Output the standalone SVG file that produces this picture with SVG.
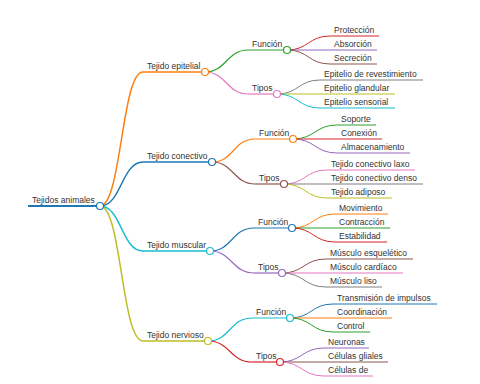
<svg xmlns="http://www.w3.org/2000/svg" width="480" height="384" viewBox="0 0 480 384">
<style>
text{font-family:"Liberation Sans",Arial,sans-serif;font-size:8.5px;fill:#333}
path,line{fill:none}
circle{fill:#fff}
.w0{stroke-width:2}.w1{stroke-width:1.5}.w2{stroke-width:1.2}.w3{stroke-width:1}
.c0{stroke:#1f77b4}.c1{stroke:#ff7f0e}.c2{stroke:#2ca02c}.c3{stroke:#d62728}.c4{stroke:#9467bd}
.c5{stroke:#8c564b}.c6{stroke:#e377c2}.c7{stroke:#7f7f7f}.c8{stroke:#bcbd22}.c9{stroke:#17becf}
</style>
<rect width="480" height="384" fill="#fff"/>
<g id="connectors">
<path class="w1 c1" d="M100,206 C121.5,206 121.5,72 143,72"/>
<path class="w1 c0" d="M100,206 C121.5,206 121.5,162 143,162"/>
<path class="w1 c9" d="M100,206 C121.5,206 121.5,251 143,251"/>
<path class="w1 c8" d="M100,206 C121.5,206 121.5,341 143,341"/>
<path class="w2 c2" d="M205,72 C226.5,72 226.5,50 248,50"/>
<path class="w2 c6" d="M205,72 C226.5,72 226.5,94 248,94"/>
<path class="w2 c1" d="M212,162 C233.5,162 233.5,139 255,139"/>
<path class="w2 c5" d="M212,162 C233.5,162 233.5,184 255,184"/>
<path class="w2 c0" d="M210,251 C232,251 232,228 254,228"/>
<path class="w2 c4" d="M210,251 C232,251 232,273 254,273"/>
<path class="w2 c9" d="M208,341 C230,341 230,318 252,318"/>
<path class="w2 c3" d="M208,341 C230,341 230,362 252,362"/>
<path class="w3 c3" d="M287,50 C308.5,50 308.5,36 330,36"/>
<path class="w3 c4" d="M287,50 L330,50"/>
<path class="w3 c5" d="M287,50 C308.5,50 308.5,64 330,64"/>
<path class="w3 c7" d="M277,94 C298.5,94 298.5,80 320,80"/>
<path class="w3 c8" d="M277,94 L320,94"/>
<path class="w3 c9" d="M277,94 C298.5,94 298.5,108 320,108"/>
<path class="w3 c2" d="M293,139 C315,139 315,125 337,125"/>
<path class="w3 c3" d="M293,139 L337,139"/>
<path class="w3 c4" d="M293,139 C315,139 315,153 337,153"/>
<path class="w3 c6" d="M284,184 C305.5,184 305.5,170 327,170"/>
<path class="w3 c7" d="M284,184 L327,184"/>
<path class="w3 c8" d="M284,184 C305.5,184 305.5,198 327,198"/>
<path class="w3 c1" d="M292,228 C313.5,228 313.5,214 335,214"/>
<path class="w3 c2" d="M292,228 L335,228"/>
<path class="w3 c3" d="M292,228 C313.5,228 313.5,242 335,242"/>
<path class="w3 c5" d="M282,273 C304,273 304,259 326,259"/>
<path class="w3 c6" d="M282,273 L326,273"/>
<path class="w3 c7" d="M282,273 C304,273 304,287 326,287"/>
<path class="w3 c0" d="M290,318 C311.5,318 311.5,304 333,304"/>
<path class="w3 c1" d="M290,318 L333,318"/>
<path class="w3 c2" d="M290,318 C311.5,318 311.5,332 333,332"/>
<path class="w3 c4" d="M280,362 C302,362 302,348 324,348"/>
<path class="w3 c5" d="M280,362 L324,362"/>
<path class="w3 c6" d="M280,362 C302,362 302,376 324,376"/>
</g>
<g id="root"><line class="w0 c0" x1="28" y1="206" x2="100" y2="206"/><circle class="w2 c0" cx="100" cy="206" r="3.5"/><text x="32" y="203">Tejidos animales</text></g>

<g id="epitelial"><line class="w1 c1" x1="143" y1="72" x2="205" y2="72"/><circle class="w2 c1" cx="205" cy="72" r="3.5"/><text x="147" y="69">Tejido epitelial</text></g>
<g id="epitelial-funcion"><line class="w2 c2" x1="248" y1="50" x2="287" y2="50"/><circle class="w2 c2" cx="287" cy="50" r="3.5"/><text x="252" y="47">Función</text></g>
<g id="proteccion"><line class="w3 c3" x1="330" y1="36" x2="379" y2="36"/><text x="334" y="33">Protección</text></g>
<g id="absorcion"><line class="w3 c4" x1="330" y1="50" x2="377" y2="50"/><text x="334" y="47">Absorción</text></g>
<g id="secrecion"><line class="w3 c5" x1="330" y1="64" x2="377" y2="64"/><text x="334" y="61">Secreción</text></g>
<g id="epitelial-tipos"><line class="w2 c6" x1="248" y1="94" x2="277" y2="94"/><circle class="w2 c6" cx="277" cy="94" r="3.5"/><text x="252" y="91">Tipos</text></g>
<g id="revestimiento"><line class="w3 c7" x1="320" y1="80" x2="423" y2="80"/><text x="324" y="77">Epitelio de revestimiento</text></g>
<g id="glandular"><line class="w3 c8" x1="320" y1="94" x2="395" y2="94"/><text x="324" y="91">Epitelio glandular</text></g>
<g id="sensorial"><line class="w3 c9" x1="320" y1="108" x2="395" y2="108"/><text x="324" y="105">Epitelio sensorial</text></g>

<g id="conectivo"><line class="w1 c0" x1="143" y1="162" x2="212" y2="162"/><circle class="w2 c0" cx="212" cy="162" r="3.5"/><text x="147" y="159">Tejido conectivo</text></g>
<g id="conectivo-funcion"><line class="w2 c1" x1="255" y1="139" x2="293" y2="139"/><circle class="w2 c1" cx="293" cy="139" r="3.5"/><text x="259" y="136">Función</text></g>
<g id="soporte"><line class="w3 c2" x1="337" y1="125" x2="376" y2="125"/><text x="341" y="122">Soporte</text></g>
<g id="conexion"><line class="w3 c3" x1="337" y1="139" x2="382" y2="139"/><text x="341" y="136">Conexión</text></g>
<g id="almacenamiento"><line class="w3 c4" x1="337" y1="153" x2="410" y2="153"/><text x="341" y="150">Almacenamiento</text></g>
<g id="conectivo-tipos"><line class="w2 c5" x1="255" y1="184" x2="284" y2="184"/><circle class="w2 c5" cx="284" cy="184" r="3.5"/><text x="259" y="181">Tipos</text></g>
<g id="laxo"><line class="w3 c6" x1="327" y1="170" x2="415" y2="170"/><text x="331" y="167">Tejido conectivo laxo</text></g>
<g id="denso"><line class="w3 c7" x1="327" y1="184" x2="423" y2="184"/><text x="331" y="181">Tejido conectivo denso</text></g>
<g id="adiposo"><line class="w3 c8" x1="327" y1="198" x2="392" y2="198"/><text x="331" y="195">Tejido adiposo</text></g>

<g id="muscular"><line class="w1 c9" x1="143" y1="251" x2="210" y2="251"/><circle class="w2 c9" cx="210" cy="251" r="3.5"/><text x="147" y="248">Tejido muscular</text></g>
<g id="muscular-funcion"><line class="w2 c0" x1="254" y1="228" x2="292" y2="228"/><circle class="w2 c0" cx="292" cy="228" r="3.5"/><text x="258" y="225">Función</text></g>
<g id="movimiento"><line class="w3 c1" x1="335" y1="214" x2="388" y2="214"/><text x="339" y="211">Movimiento</text></g>
<g id="contraccion"><line class="w3 c2" x1="335" y1="228" x2="390" y2="228"/><text x="339" y="225">Contracción</text></g>
<g id="estabilidad"><line class="w3 c3" x1="335" y1="242" x2="387" y2="242"/><text x="339" y="239">Estabilidad</text></g>
<g id="muscular-tipos"><line class="w2 c4" x1="254" y1="273" x2="282" y2="273"/><circle class="w2 c4" cx="282" cy="273" r="3.5"/><text x="258" y="270">Tipos</text></g>
<g id="esqueletico"><line class="w3 c5" x1="326" y1="259" x2="413" y2="259"/><text x="330" y="256">Músculo esquelético</text></g>
<g id="cardiaco"><line class="w3 c6" x1="326" y1="273" x2="403" y2="273"/><text x="330" y="270">Músculo cardíaco</text></g>
<g id="liso"><line class="w3 c7" x1="326" y1="287" x2="382" y2="287"/><text x="330" y="284">Músculo liso</text></g>

<g id="nervioso"><line class="w1 c8" x1="143" y1="341" x2="208" y2="341"/><circle class="w2 c8" cx="208" cy="341" r="3.5"/><text x="147" y="338">Tejido nervioso</text></g>
<g id="nervioso-funcion"><line class="w2 c9" x1="252" y1="318" x2="290" y2="318"/><circle class="w2 c9" cx="290" cy="318" r="3.5"/><text x="256" y="315">Función</text></g>
<g id="transmision"><line class="w3 c0" x1="333" y1="304" x2="437" y2="304"/><text x="337" y="301">Transmisión de impulsos</text></g>
<g id="coordinacion"><line class="w3 c1" x1="333" y1="318" x2="392" y2="318"/><text x="337" y="315">Coordinación</text></g>
<g id="control"><line class="w3 c2" x1="333" y1="332" x2="370" y2="332"/><text x="337" y="329">Control</text></g>
<g id="nervioso-tipos"><line class="w2 c3" x1="252" y1="362" x2="280" y2="362"/><circle class="w2 c3" cx="280" cy="362" r="3.5"/><text x="256" y="359">Tipos</text></g>
<g id="neuronas"><line class="w3 c4" x1="324" y1="348" x2="369" y2="348"/><text x="328" y="345">Neuronas</text></g>
<g id="gliales"><line class="w3 c5" x1="324" y1="362" x2="388" y2="362"/><text x="328" y="359">Células gliales</text></g>
<g id="celulas-de"><line class="w3 c6" x1="324" y1="376" x2="373" y2="376"/><text x="328" y="373">Células de</text></g>
</svg>
